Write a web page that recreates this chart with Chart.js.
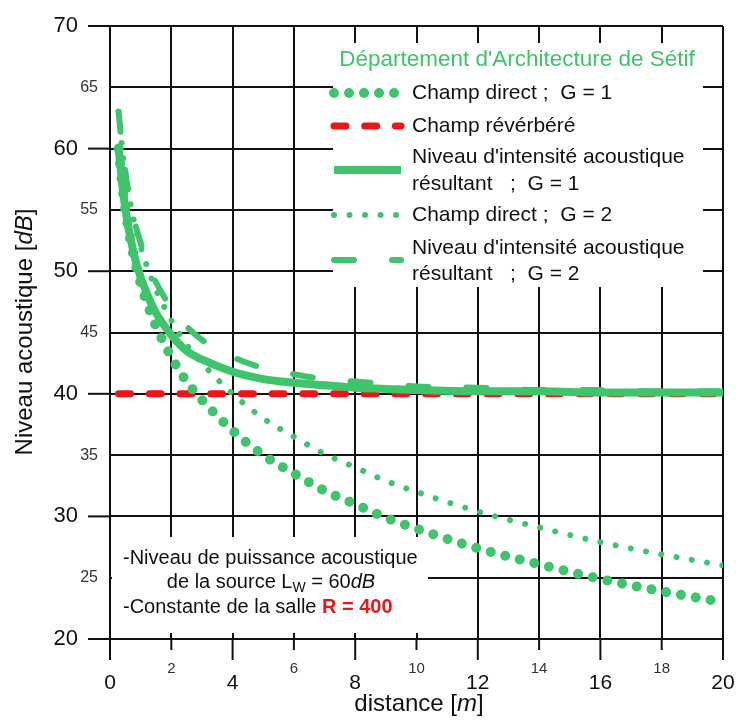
<!DOCTYPE html>
<html>
<head>
<meta charset="utf-8">
<script src="https://cdn.jsdelivr.net/npm/chart.js@4.4.1/dist/chart.umd.min.js"></script>
<style>
  html, body { margin: 0; padding: 0; background: #fff; }
  #wrap { width: 736px; height: 722px; position: relative; }
</style>
</head>
<body>
<div id="wrap"><canvas id="chart"></canvas></div>
<script>
// distance r [m] and levels [dB]
const distances    = [0.28, 0.4, 0.5, 0.6, 0.8, 1, 1.25, 1.5, 2, 2.5, 3, 4, 5, 6, 7, 8, 9, 10, 12, 14, 16, 18, 20];
const directG1     = [60.0, 57.0, 55.0, 53.4, 50.9, 49.0, 47.1, 45.5, 43.0, 41.0, 39.5, 37.0, 35.0, 33.5, 32.1, 31.0, 29.9, 29.0, 27.4, 26.1, 24.9, 23.9, 23.0];
const reverberant  = [40, 40, 40, 40, 40, 40, 40, 40, 40, 40, 40, 40, 40, 40, 40, 40, 40, 40, 40, 40, 40, 40, 40];
const resultantG1  = [60.0, 57.1, 55.1, 53.6, 51.2, 49.5, 47.9, 46.6, 44.8, 43.5, 42.8, 41.8, 41.2, 40.9, 40.7, 40.5, 40.4, 40.3, 40.2, 40.2, 40.1, 40.1, 40.1];
const directG2     = [63.0, 60.0, 58.0, 56.4, 53.9, 52.0, 50.1, 48.5, 46.0, 44.0, 42.5, 40.0, 38.0, 36.5, 35.1, 34.0, 32.9, 32.0, 30.4, 29.1, 27.9, 26.9, 26.0];
const resultantG2  = [63.0, 60.0, 58.1, 56.5, 54.1, 52.3, 50.5, 49.1, 47.0, 45.5, 44.4, 43.0, 42.1, 41.6, 41.2, 41.0, 40.8, 40.6, 40.5, 40.3, 40.3, 40.2, 40.2];

const legendTitle = "Département d'Architecture de Sétif";
const legendLabels = [
  ['Champ direct ;  G = 1'],
  ['Champ révérbéré'],
  ["Niveau d'intensité acoustique", 'résultant   ;  G = 1'],
  ['Champ direct ;  G = 2'],
  ["Niveau d'intensité acoustique", 'résultant   ;  G = 2']
];

const GREEN = '#3ec46a';
const RED = '#ee1515';
const INK = '#111';
const FONT = "'Liberation Sans', Arial, sans-serif";

// line styles shared by the curves and the legend samples
const styles = [
  { color: GREEN, width: 10, dash: [0.01, 15] },
  { color: RED,   width: 7,  dash: [12, 18.7] },
  { color: GREEN, width: 8,  dash: [] },
  { color: GREEN, width: 6,  dash: [0.01, 15.5] },
  { color: GREEN, width: 6,  dash: [20, 38] }
];
const series = [directG1, reverberant, resultantG1, directG2, resultantG2];
const drawOrder = [2, 5, 1, 3, 4];

function pts(ys) {
  return distances.map((d, i) => ({ x: d, y: ys[i] }));
}

function richText(ctx, parts, x, y, align) {
  let w = 0;
  parts.forEach(p => { ctx.font = p[1]; w += ctx.measureText(p[0]).width; });
  let cx = align === 'center' ? x - w / 2 : x;
  ctx.textAlign = 'left';
  ctx.textBaseline = 'middle';
  parts.forEach(p => {
    ctx.font = p[1];
    ctx.fillStyle = p[2] || INK;
    ctx.fillText(p[0], cx, y + (p[3] || 0));
    cx += ctx.measureText(p[0]).width;
  });
}

function line(ctx, x1, y1, x2, y2) {
  ctx.beginPath();
  ctx.moveTo(x1, y1);
  ctx.lineTo(x2, y2);
  ctx.stroke();
}

const decorations = {
  id: 'decorations',
  beforeDatasetsDraw(chart) {
    const ctx = chart.ctx;
    ctx.save();
    ctx.fillStyle = '#fff';
    ctx.fillRect(333, 43, 370, 244);   // legend panel
    ctx.fillRect(112, 537, 316, 96);   // notes panel
    ctx.restore();
  },
  afterDraw(chart) {
    const ctx = chart.ctx;
    const { left, bottom } = chart.chartArea;
    const xs = chart.scales.x, ys = chart.scales.y;
    ctx.save();

    // tick marks and labels
    ctx.strokeStyle = INK;
    ctx.lineWidth = 2;
    ctx.fillStyle = INK;
    ctx.textBaseline = 'middle';
    xs.ticks.forEach(t => {
      const px = xs.getPixelForValue(t.value);
      const major = t.value % 4 === 0;
      line(ctx, px, bottom, px, bottom + (major ? 21 : 11));
      ctx.textAlign = 'center';
      ctx.fillStyle = major ? INK : '#333';
      ctx.font = (major ? 21 : 15) + 'px ' + FONT;
      ctx.fillText(String(t.value), px, major ? 683 : 669);
    });
    ys.ticks.forEach(t => {
      const py = ys.getPixelForValue(t.value);
      const major = t.value % 10 === 0;
      if (major) line(ctx, left - 22, py, left, py);
      ctx.textAlign = 'right';
      ctx.fillStyle = major ? INK : '#333';
      ctx.font = (major ? 22 : 16) + 'px ' + FONT;
      ctx.fillText(String(t.value), major ? 78 : 98, py);
    });

    // axis titles
    richText(ctx, [['distance [', '24px ' + FONT], ['m', 'italic 24px ' + FONT], [']', '24px ' + FONT]], 419, 704, 'center');
    ctx.save();
    ctx.translate(25, 332);
    ctx.rotate(-Math.PI / 2);
    richText(ctx, [['Niveau acoustique [', '24px ' + FONT], ['dB', 'italic 24px ' + FONT], [']', '24px ' + FONT]], 0, 0, 'center');
    ctx.restore();

    // legend
    richText(ctx, [[legendTitle, '22.5px ' + FONT, GREEN]], 517, 60, 'center');
    const rows = [
      { y: 93, text: [93] },
      { y: 126, text: [126] },
      { y: 170, text: [157, 184] },
      { y: 215, text: [215] },
      { y: 260, text: [248, 274] }
    ];
    rows.forEach((r, i) => {
      const s = styles[i];
      ctx.save();
      ctx.strokeStyle = s.color;
      ctx.lineWidth = s.width;
      ctx.lineCap = s.dash.length ? 'round' : 'butt';
      ctx.setLineDash(s.dash);
      line(ctx, 334, r.y, 401, r.y);
      ctx.restore();
      legendLabels[i].forEach((t, k) => richText(ctx, [[t, '21px ' + FONT]], 412, r.text[k], 'left'));
    });

    // notes
    const f = '20px ' + FONT;
    richText(ctx, [['-Niveau de puissance acoustique', f]], 123, 558, 'left');
    richText(ctx, [['de la source L', f], ['W', '14px ' + FONT, INK, 6], [' = 60', f], ['dB', 'italic ' + f]], 271, 582, 'center');
    richText(ctx, [['-Constante de la salle ', f], ['R = 400', 'bold ' + f, RED]], 123, 607, 'left');

    ctx.restore();
  }
};

new Chart(document.getElementById('chart'), {
  type: 'line',
  data: {
    datasets: series.map((ys, i) => ({
      data: pts(ys),
      borderColor: styles[i].color,
      borderWidth: styles[i].width,
      borderDash: styles[i].dash,
      borderCapStyle: styles[i].dash.length ? 'round' : 'butt',
      borderJoinStyle: 'round',
      cubicInterpolationMode: 'monotone',
      pointRadius: 0,
      fill: false,
      order: drawOrder[i]
    }))
  },
  options: {
    responsive: true,
    maintainAspectRatio: false,
    animation: false,
    events: [],
    layout: { padding: { top: 26, right: 13, left: 0, bottom: 0 } },
    plugins: { legend: { display: false }, tooltip: { enabled: false } },
    scales: {
      x: {
        type: 'linear',
        min: 0,
        max: 20,
        ticks: { stepSize: 2, display: false },
        grid: { color: INK, lineWidth: 2, drawTicks: false },
        border: { color: INK, width: 2 },
        afterFit(scale) { scale.height = 83; }
      },
      y: {
        type: 'linear',
        min: 20,
        max: 70,
        ticks: { stepSize: 5, display: false },
        grid: { color: INK, lineWidth: 2, drawTicks: false },
        border: { color: INK, width: 2 },
        afterFit(scale) { scale.width = 110; }
      }
    }
  },
  plugins: [decorations]
});
</script>
</body>
</html>
